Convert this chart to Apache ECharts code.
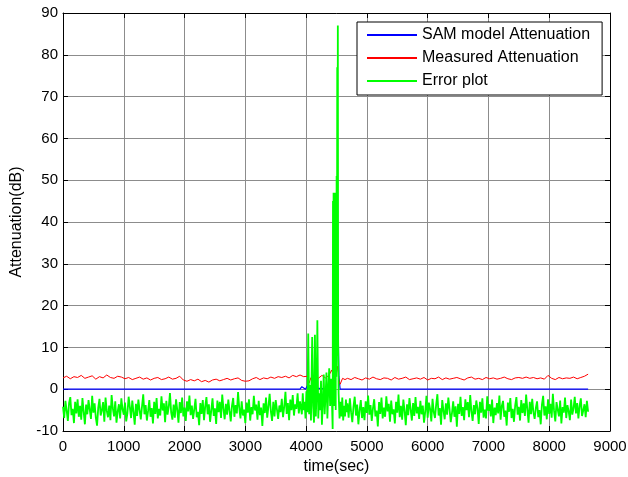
<!DOCTYPE html>
<html>
<head>
<meta charset="UTF-8">
<title>Attenuation</title>
<style type="text/css">
  body { margin: 0; background: #fff; }
  #chart { width: 628px; height: 477px; }
</style>
<script src="https://cdn.jsdelivr.net/npm/echarts@6/dist/echarts.min.js"></script>
</head>
<body>
<div id="chart"></div>
<script type="text/javascript">
// x ticks / y ticks
var xTicks = [0, 1000, 2000, 3000, 4000, 5000, 6000, 7000, 8000, 9000];
var yTicks = [-10, 0, 10, 20, 30, 40, 50, 60, 70, 80, 90];

// SAM model attenuation (flat, bumps near the event)
var blueT = [0, 3900, 3930, 3960, 3990, 4020, 4050, 4080, 4420, 4450, 4480, 4500, 4515, 4525, 4540, 4560, 8640];
var blueV = [0, 0, 0.6, 0.2, 0, 0.8, 0.3, 0, 0, 1.5, 2.4, 6, 12, 16.7, 3, 0, 0];

// measured attenuation, sampled every 60 s before / after the event
var redA = [2.7,3.1,2.5,3.0,2.8,3.3,2.6,2.9,3.2,2.4,3.0,2.7,3.4,2.8,2.6,3.1,2.9,2.5,
  2.8,2.3,2.6,2.9,2.4,2.7,2.2,2.6,2.8,2.3,2.5,2.9,2.4,2.6,3.1,
  2.2,1.9,2.3,2.0,2.4,1.8,2.1,1.7,2.2,2.4,2.0,2.3,2.6,2.2,2.5,2.7,2.1,
  1.9,2.0,2.5,2.8,2.3,2.7,2.5,2.9,2.6,3.0,2.8,3.1,2.7,3.3,3.0,3.4];
var redEventT = [3960,4020,4050,4080,4140,4200,4260,4320,4380,4420,4450,4480,4500,4520,4540,4560,4600,4640];
var redEventV = [3.0,3.1,1.5,2.8,3.2,2.6,3.3,2.7,3.4,4.6,3.2,8.5,4.0,5.5,2.0,1.2,2.6,2.3];
var redB = [2.6,2.3,2.8,2.5,2.2,2.7,2.4,2.9,2.5,2.3,2.7,2.6,2.2,2.8,2.4,2.6,2.9,2.3,2.5,2.7,
  2.4,2.8,2.2,2.6,2.5,2.9,2.3,2.7,2.4,2.6,2.8,2.5,2.2,2.7,2.9,2.4,2.6,2.3,2.8,2.5,
  2.7,2.4,2.6,2.9,2.5,2.3,2.7,2.8,2.6,2.9,2.6,2.8,2.5,2.7,2.4,3.3,2.6,2.3,2.8,2.5,
  2.7,2.6,2.9,2.5,2.8,3.1,3.6];

// error plot, sampled every 20 s before / after the event
var greenA = [-4.2,-6.9,-2.8,-5.1,-7.6,-3.3,-1.9,-6.2,-4.7,-8.1,-3.0,-5.8,-2.4,-6.6,-4.0,-7.3,-2.1,-5.4,-8.4,-3.7,
  -6.0,-2.6,-4.9,-7.1,-1.6,-5.6,-3.4,-6.8,-8.7,-4.4,-2.3,-6.3,-5.0,-3.1,-7.8,-2.0,-5.2,-6.7,-3.9,-7.4,
  -1.4,-4.6,-6.5,-2.9,-8.0,-5.3,-3.6,-7.0,-2.2,-4.8,-6.1,-3.2,-7.7,-5.7,-1.8,-4.3,-6.9,-2.7,-5.5,-8.5,
  -3.5,-6.4,-2.5,-5.0,-7.2,-4.1,-1.2,-6.0,-3.8,-7.5,-5.2,-2.6,-6.6,-4.5,-8.2,-3.0,-5.9,-2.1,-7.0,-4.7,
  -6.3,-1.7,-5.1,-3.4,-7.9,-2.8,-6.1,-4.2,-0.9,-5.6,-7.3,-3.7,-6.8,-2.4,-4.9,-8.0,-3.1,-5.7,-2.0,-6.5,
  -4.4,-7.6,-2.9,-5.3,-1.5,-6.2,-3.9,-7.1,-4.8,-2.3,-6.7,-5.4,-8.6,-3.3,-5.9,-2.6,-7.4,-4.1,-1.9,-6.0,
  -3.6,-7.8,-5.0,-2.2,-6.4,-4.6,-8.3,-2.7,-5.5,-3.0,-6.9,-1.3,-4.7,-7.2,-3.5,-6.1,-2.5,-5.2,-7.7,-4.0,
  -2.1,-6.6,-3.8,-5.8,-0.7,-4.5,-7.0,-2.9,-6.3,-4.9,-8.1,-3.2,-5.6,-2.4,-7.5,-4.3,-6.0,-1.6,-5.1,-3.7,
  -7.3,-2.8,-6.2,-4.4,-8.8,-3.4,-5.7,-2.0,-6.8,-4.1,-1.1,-5.3,-7.6,-3.0,-6.5,-2.6,-4.8,-7.1,-3.9,-5.5,
  -2.3,-6.7,-4.2,-0.6,-5.9,-3.3,-7.4,-2.5,-5.0,-1.4,-6.3,-3.6,-4.7,-1.0,-5.8,-2.9];
var greenEventT = [3915,3930,3945,3960,3975,3990,4005,4020,
  4035,4050,4065,4080,4100,4115,4130,4145,4160,4175,4185,
  4200,4215,4230,4245,4260,4275,4290,4305,4320,4335,4350,4365,4380,4395,4410,4425,
  4437,4442,4447,4452,4457,4462,4467,4472,4477,4482,4487,4492,4497,4502,4507,4512,4517,4522,4527,
  4535,4550,4565,4580,4595,4610,4625,4640,4655,4667];
var greenEventV = [-2.5,-6.0,-1.0,-5.0,-3.0,-7.0,-0.5,-5.5,
  13.3,-6.0,1.0,-7.5,12.5,-4.0,-8.0,13.0,-6.5,0.5,16.5,
  -7.0,-1.0,-5.0,2.0,-8.5,-3.0,3.5,-6.0,-1.5,4.0,-7.0,0.0,5.0,-4.0,2.5,-3.0,
  -9.5,45,-3,47,0,46,-4,47,1,45,-5,47,3,51,8,77,25,87,12,
  -1,-7,-3,-6.5,-2,-7.5,-4,-6.5,-2.5,-5.5];
var greenB = [-3.4,-6.8,-2.2,-5.5,-7.9,-4.1,-1.8,-6.3,-3.7,-8.4,-5.0,-2.6,-6.9,-4.3,-7.4,-2.9,-5.7,-1.5,-6.1,-3.8,
  -7.6,-4.6,-2.4,-6.5,-5.1,-8.9,-3.1,-5.9,-2.0,-7.0,-4.4,-6.6,-1.7,-5.3,-3.5,-7.8,-2.7,-6.0,-4.8,-8.2,
  -3.0,-5.6,-1.3,-6.7,-4.0,-7.3,-2.5,-5.2,-8.6,-3.6,-6.2,-2.1,-4.9,-7.5,-3.3,-6.4,-1.9,-5.8,-4.2,-7.1,
  -2.8,-6.0,-3.9,-8.0,-5.4,-1.6,-6.8,-3.2,-4.7,-7.7,-2.3,-5.5,-6.9,-3.7,-1.2,-6.3,-4.5,-8.5,-2.6,-5.1,
  -7.2,-3.4,-6.1,-2.0,-4.8,-7.9,-5.7,-2.9,-6.6,-4.1,-9.0,-3.5,-5.9,-1.8,-6.4,-4.3,-7.4,-2.4,-5.0,-3.1,
  -6.7,-1.4,-5.3,-7.6,-3.8,-6.0,-2.7,-4.6,-8.3,-3.0,-5.6,-2.2,-6.8,-4.9,-7.0,-1.7,-5.2,-3.6,-6.5,-2.5,
  -8.1,-4.4,-6.2,-3.3,-5.8,-1.5,-7.3,-4.0,-2.8,-6.6,-5.1,-8.7,-3.2,-5.4,-2.1,-6.9,-4.7,-7.8,-3.9,-1.9,
  -6.1,-4.2,-7.5,-2.6,-5.7,-3.4,-6.4,-1.3,-4.8,-8.0,-3.0,-6.0,-2.3,-5.5,-7.1,-4.5,-2.9,-6.7,-5.0,-8.4,
  -3.7,-1.6,-6.3,-4.1,-7.2,-2.4,-5.9,-3.5,-6.8,-1.1,-5.2,-7.7,-3.1,-4.9,-6.5,-2.7,-8.2,-4.3,-5.6,-2.0,
  -6.9,-3.8,-5.3,-7.4,-2.5,-6.1,-4.6,-1.8,-5.8,-3.3,-7.0,-4.0,-2.2,-6.4,-5.1,-3.6,-6.7,-2.8,-5.4];

function stepPairs(t0, step, vals) {
  return vals.map(function (v, i) { return [t0 + i * step, v]; });
}
function zipPairs(ts, vs) {
  return ts.map(function (t, i) { return [t, vs[i]]; });
}

var blueData = zipPairs(blueT, blueV);
var redData = stepPairs(0, 60, redA).concat(zipPairs(redEventT, redEventV), stepPairs(4680, 60, redB));
var greenData = stepPairs(0, 20, greenA).concat(zipPairs(greenEventT, greenEventV), stepPairs(4680, 20, greenB));

var FONT = '"Liberation Sans", Arial, Helvetica, sans-serif';
var xMin = xTicks[0], xMax = xTicks[xTicks.length - 1];
var yMin = yTicks[0], yMax = yTicks[yTicks.length - 1];
function plain(v) { return String(v); }

var myChart = echarts.init(document.getElementById('chart'));
var option = {
  animation: false,
  backgroundColor: '#fff',
  grid: { left: 63, right: 18, top: 13, bottom: 46, containLabel: false, outerBoundsMode: 'none' },
  legend: {
    orient: 'vertical',
    left: 357,
    top: 22,
    padding: [5, 12, 6, 10],
    itemGap: 7,
    itemWidth: 50,
    itemHeight: 2,
    icon: 'rect',
    backgroundColor: '#fff',
    borderColor: '#000',
    borderWidth: 1,
    textStyle: { fontFamily: FONT, fontSize: 16, color: '#000' },
    data: ['SAM model Attenuation', 'Measured Attenuation', 'Error plot']
  },
  xAxis: [{
    type: 'value', min: xMin, max: xMax, interval: 1000,
    name: 'time(sec)', nameLocation: 'middle', nameGap: 27,
    nameTextStyle: { fontFamily: FONT, fontSize: 16, color: '#000' },
    axisLine: { onZero: false, lineStyle: { color: '#000', width: 1 } },
    axisTick: { inside: true, length: 5, lineStyle: { color: '#000' } },
    axisLabel: { fontFamily: FONT, fontSize: 15, color: '#000', margin: 8, formatter: plain },
    splitLine: { show: true, lineStyle: { color: '#8c8c8c', width: 1 } }
  }, {
    type: 'value', position: 'top', min: xMin, max: xMax, interval: 1000,
    axisLine: { show: true, onZero: false, lineStyle: { color: '#000', width: 1 } },
    axisTick: { show: true, inside: true, length: 5, lineStyle: { color: '#000' } },
    axisLabel: { show: false },
    splitLine: { show: false }
  }],
  yAxis: [{
    type: 'value', min: yMin, max: yMax, interval: 10,
    name: 'Attenuation(dB)', nameLocation: 'middle', nameGap: 38,
    nameTextStyle: { fontFamily: FONT, fontSize: 16, color: '#000' },
    axisLine: { show: true, onZero: false, lineStyle: { color: '#000', width: 1 } },
    axisTick: { show: true, inside: true, length: 5, lineStyle: { color: '#000' } },
    axisLabel: { fontFamily: FONT, fontSize: 15, color: '#000', margin: 5, formatter: plain },
    splitLine: { show: true, lineStyle: { color: '#8c8c8c', width: 1 } }
  }, {
    type: 'value', position: 'right', min: yMin, max: yMax, interval: 10,
    axisLine: { show: true, onZero: false, lineStyle: { color: '#000', width: 1 } },
    axisTick: { show: true, inside: true, length: 5, lineStyle: { color: '#000' } },
    axisLabel: { show: false },
    splitLine: { show: false }
  }],
  series: [
    {
      name: 'SAM model Attenuation', type: 'line', showSymbol: false, symbol: 'none',
      color: '#0000ff', lineStyle: { width: 1.2, color: '#0000ff' },
      data: blueData
    },
    {
      name: 'Measured Attenuation', type: 'line', showSymbol: false, symbol: 'none',
      color: '#ff0000', lineStyle: { width: 1, color: '#ff0000' },
      data: redData
    },
    {
      name: 'Error plot', type: 'line', showSymbol: false, symbol: 'none',
      color: '#00ff00', lineStyle: { width: 1.8, color: '#00ff00' },
      data: greenData
    }
  ]
};
myChart.setOption(option);
</script>
</body>
</html>
